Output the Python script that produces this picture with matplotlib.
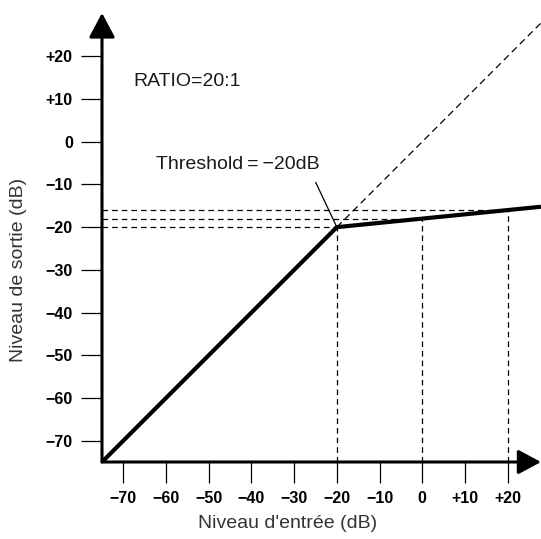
import matplotlib
matplotlib.use("Agg")
import matplotlib.pyplot as plt

plt.rcParams['font.family'] = ['Liberation Sans', 'DejaVu Sans']

# ---- data ----
curve_in = [-75, -20, 27.8]
curve_out = [-75, -20, -15.22]
unity_in = [-20, 35]
unity_out = [-20, 35]
guide_in = [-20, 0, 20]
guide_out = [-20, -18, -16]
tick_vals = [-70, -60, -50, -40, -30, -20, -10, 0, 10, 20]
tick_labels = ['−70', '−60', '−50', '−40', '−30', '−20', '−10', '0', '+10', '+20']
threshold = (-20, -20)

W, H = 541, 539
fig = plt.figure(figsize=(W / 100, H / 100), dpi=100)
ax = fig.add_axes([102 / W, (H - 462) / H, (W - 102) / W, 462 / H])
ax.set_xlim(-75, -75 + (W - 102) / 4.27)
ax.set_ylim(-75, -75 + 462 / 4.27)
for s in ax.spines.values():
    s.set_visible(False)

ax.set_xticks(tick_vals)
ax.set_xticklabels(tick_labels)
ax.set_yticks(tick_vals)
ax.set_yticklabels(tick_labels)
ax.tick_params(direction='out', length=15, width=0.9, color='black', pad=6)
for lab in ax.get_xticklabels() + ax.get_yticklabels():
    lab.set_fontsize(11.5)
    lab.set_fontweight('bold')

dash = (0, (4.5, 3.2))
# guide lines
for gx, gy in zip(guide_in, guide_out):
    ax.plot([-75, gx], [gy, gy], color='black', lw=0.9, linestyle=dash, clip_on=False)
    ax.plot([gx, gx], [-75, gy], color='black', lw=0.9, linestyle=dash, clip_on=False)

# unity diagonal
ax.plot(unity_in, unity_out, color='black', lw=0.9, linestyle=(0, (5.5, 3.5)))

# compression curve
ax.plot(curve_in, curve_out, color='black', lw=3.0, solid_capstyle='butt',
        solid_joinstyle='miter', zorder=5)

# axes arrows
ax.annotate('', xy=(0, 449 / 462), xytext=(0, 0), xycoords='axes fraction',
            textcoords='axes fraction', annotation_clip=False,
            arrowprops=dict(arrowstyle='-|>,head_length=1.5,head_width=0.8',
                            mutation_scale=10, lw=2.2, color='black',
                            shrinkA=0, shrinkB=0), zorder=6)
ax.annotate('', xy=(1.0, 0), xytext=(0, 0), xycoords='axes fraction',
            textcoords='axes fraction', annotation_clip=False,
            arrowprops=dict(arrowstyle='-|>,head_length=1.4,head_width=0.75',
                            mutation_scale=10, lw=2.2, color='black',
                            shrinkA=0, shrinkB=0), zorder=6)

# texts
ax.text(-67.7, 14.0, 'RATIO=20:1', fontsize=14, color='#1a1a1a',
        ha='left', va='center')
ax.annotate('Threshold\u2009=\u2009−20dB', xy=threshold, xytext=(-43.2, -5.4),
            fontsize=14, color='#1a1a1a', ha='center', va='center',
            arrowprops=dict(arrowstyle='-', lw=0.9, color='black',
                            shrinkA=5, shrinkB=0,
                            relpos=(0.95, 0.0)))

fig.text(288 / W, 1 - 523 / H, "Niveau d'entrée (dB)", fontsize=14,
         color='#333333', ha='center', va='center')
fig.text(19 / W, 1 - 270 / H, 'Niveau de sortie (dB)', fontsize=14,
         color='#333333', ha='center', va='center', rotation=90)

fig.savefig('out.png', dpi=100)
